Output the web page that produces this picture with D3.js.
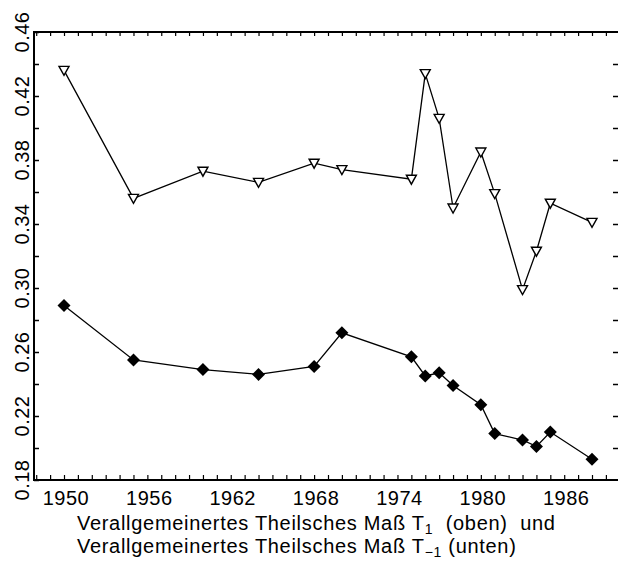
<!DOCTYPE html>
<html>
<head>
<meta charset="utf-8">
<script src="https://cdn.jsdelivr.net/npm/d3@7"></script>
<style>
  body { margin: 0; background: #fff; }
  svg { display: block; }
  text { font-family: "Liberation Sans", Arial, sans-serif; fill: #000; }
</style>
</head>
<body>
<svg id="chart"></svg>
<script>
const width = 618;
const height = 562;

// Jahre und Werte
const years = [1950, 1955, 1960, 1964, 1968, 1970, 1975, 1976, 1977, 1978, 1980, 1981, 1983, 1984, 1985, 1988];
const theilT1 = [0.436, 0.356, 0.373, 0.366, 0.378, 0.374, 0.368, 0.434, 0.406, 0.350, 0.385, 0.359, 0.299, 0.323, 0.353, 0.341];
const theilTm1 = [0.289, 0.255, 0.249, 0.246, 0.251, 0.272, 0.257, 0.245, 0.247, 0.239, 0.227, 0.209, 0.205, 0.201, 0.210, 0.193];

const xTickLabels = [1950, 1956, 1962, 1968, 1974, 1980, 1986];
const yTickLabels = [0.46, 0.42, 0.38, 0.34, 0.30, 0.26, 0.22, 0.18];

const plotLeft = 34, plotRight = 618, plotTop = 32, plotBottom = 480;

const svg = d3.select('#chart')
    .attr('width', width)
    .attr('height', height);

const x = d3.scaleLinear().domain([1950, 1988]).range([64, 592]);
const y = d3.scaleLinear().domain([0.18, 0.46]).range([plotBottom, plotTop]);

// Rahmen
svg.append('path')
    .attr('d', `M${plotRight},${plotTop}H${plotLeft}V${plotBottom}H${plotRight}`)
    .attr('stroke', '#000').attr('stroke-width', 2).attr('fill', 'none');

// Teilstriche x (jedes Jahr, unten und oben)
const yearTicks = d3.range(1948, 1990);
svg.append('g').attr('transform', `translate(0,${plotBottom})`)
    .call(d3.axisTop(x).tickValues(yearTicks).tickSize(5).tickFormat(''))
    .call(g => g.select('.domain').remove())
    .call(g => g.selectAll('line').attr('stroke-width', 1.2));
svg.append('g').attr('transform', `translate(0,${plotTop})`)
    .call(d3.axisBottom(x).tickValues(yearTicks).tickSize(4).tickFormat(''))
    .call(g => g.select('.domain').remove())
    .call(g => g.selectAll('line').attr('stroke-width', 1.2));

// x-Beschriftung
svg.append('g').selectAll('text')
    .data(xTickLabels).enter()
    .append('text')
      .attr('x', d => x(d) + 2)
      .attr('y', 505)
      .attr('text-anchor', 'middle')
      .style('font-size', '20px')
      .style('letter-spacing', '0.5px')
      .text(d => d);

// Teilstriche y
const yTicks = d3.range(0, 15).map(i => +(0.18 + i * 0.02).toFixed(2));
svg.append('g').attr('transform', `translate(${plotLeft},0)`)
    .call(d3.axisRight(y).tickValues(yTicks).tickSize(5).tickFormat(''))
    .call(g => g.select('.domain').remove())
    .call(g => g.selectAll('line').attr('stroke-width', 1.5));
svg.append('g').attr('transform', `translate(${plotRight},0)`)
    .call(d3.axisLeft(y).tickValues(yTicks.slice(1, -1)).tickSize(5).tickFormat(''))
    .call(g => g.select('.domain').remove())
    .call(g => g.selectAll('line').attr('stroke-width', 1.5));

// y-Beschriftung (gedreht)
svg.append('g').selectAll('text')
    .data(yTickLabels).enter()
    .append('text')
      .attr('transform', d => `translate(29,${y(d)}) rotate(-90)`)
      .attr('text-anchor', 'middle')
      .style('font-size', '20px')
      .style('letter-spacing', '0.5px')
      .text(d => d.toFixed(2));

const line = d3.line()
    .x((d, i) => x(years[i]))
    .y(d => y(d));

// oben: T1
svg.append('path')
    .datum(theilT1)
    .attr('fill', 'none')
    .attr('stroke', '#000')
    .attr('stroke-width', 1.3)
    .attr('d', line);

svg.append('g').selectAll('path')
    .data(theilT1).enter()
    .append('path')
      .attr('transform', (d, i) => `translate(${x(years[i])},${y(d)})`)
      .attr('d', 'M-5,-4H5L0,5Z')
      .attr('fill', '#fff')
      .attr('stroke', '#000')
      .attr('stroke-width', 1.4);

// unten: T-1
svg.append('path')
    .datum(theilTm1)
    .attr('fill', 'none')
    .attr('stroke', '#000')
    .attr('stroke-width', 1.3)
    .attr('d', line);

svg.append('g').selectAll('path')
    .data(theilTm1).enter()
    .append('path')
      .attr('transform', (d, i) => `translate(${x(years[i])},${y(d)})`)
      .attr('d', 'M0,-6.5L6.5,0L0,6.5L-6.5,0Z')
      .attr('fill', '#000');

// Achsentitel
const title = svg.append('g').style('font-size', '20px').style('letter-spacing', '0.7px');
const t1 = title.append('text').attr('x', 77).attr('y', 530);
t1.append('tspan').text('Verallgemeinertes Theilsches Maß T');
t1.append('tspan').attr('dy', 4).style('font-size', '14px').text('1');
t1.append('tspan').attr('dy', -4).attr('xml:space', 'preserve').text('  (oben)  und');

const t2 = title.append('text').attr('x', 77).attr('y', 553);
t2.append('tspan').text('Verallgemeinertes Theilsches Maß T');
t2.append('tspan').attr('dy', 4).style('font-size', '14px').text('−1');
t2.append('tspan').attr('dy', -4).text(' (unten)');
</script>
</body>
</html>
